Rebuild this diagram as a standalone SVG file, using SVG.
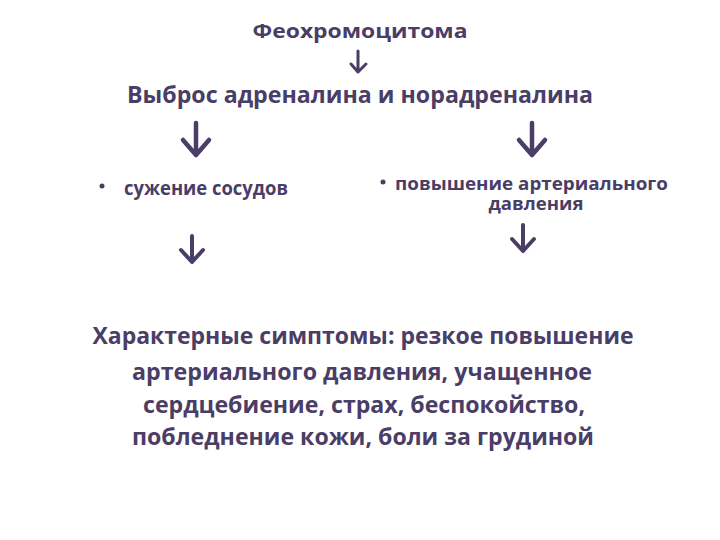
<svg xmlns="http://www.w3.org/2000/svg" width="720" height="540" viewBox="0 0 720 540">
  <style>
    text { font-family: "Open Sans", Lato, "Liberation Sans", sans-serif; font-weight: 700; fill: #4a3d66; }
    .arrow { fill: none; stroke: #4a3d66; stroke-linecap: round; stroke-linejoin: round; }
  </style>
  <rect width="720" height="540" fill="#ffffff"/>
  <g id="node-pheo">
    <text x="360" y="38" font-size="20" text-anchor="middle" textLength="215" lengthAdjust="spacingAndGlyphs">Феохромоцитома</text>
  </g>
  <g id="node-release">
    <text x="360" y="103" font-size="24" text-anchor="middle" textLength="466" lengthAdjust="spacingAndGlyphs">Выброс адреналина и норадреналина</text>
  </g>
  <g id="node-vasoconstriction">
    <circle cx="102" cy="186" r="2.5" fill="#4a3d66"/>
    <text x="124" y="195" font-size="19" textLength="164" lengthAdjust="spacingAndGlyphs">сужение сосудов</text>
  </g>
  <g id="node-pressure">
    <circle cx="383" cy="182" r="2.5" fill="#4a3d66"/>
    <text x="395" y="190" font-size="18.5" textLength="273" lengthAdjust="spacingAndGlyphs">повышение артериального</text>
    <text x="536" y="210" font-size="18.5" text-anchor="middle" textLength="95" lengthAdjust="spacingAndGlyphs">давления</text>
  </g>
  <g id="node-symptoms">
    <text x="363" y="344" font-size="24" text-anchor="middle" textLength="541" lengthAdjust="spacingAndGlyphs">Характерные симптомы: резкое повышение</text>
    <text x="362" y="380" font-size="24" text-anchor="middle" textLength="460" lengthAdjust="spacingAndGlyphs">артериального давления, учащенное</text>
    <text x="364" y="413" font-size="24" text-anchor="middle" textLength="442" lengthAdjust="spacingAndGlyphs">сердцебиение, страх, беспокойство,</text>
    <text x="363" y="445" font-size="24" text-anchor="middle" textLength="462" lengthAdjust="spacingAndGlyphs">побледнение кожи, боли за грудиной</text>
  </g>
  <g id="connectors">
    <path class="arrow" stroke-width="3" d="M358 51 V72 M351 64 L358 72 L366 64"/>
    <path class="arrow" stroke-width="4.5" d="M196 123 V154 M183 140 L196 155 L209 140"/>
    <path class="arrow" stroke-width="4.5" d="M532 123 V154 M519 140 L532 155 L545 140"/>
    <path class="arrow" stroke-width="4" d="M192 236 V262 M181 250 L192 262 L203 250"/>
    <path class="arrow" stroke-width="4" d="M523 225 V251 M512 239 L523 251 L534 239"/>
  </g>
</svg>
